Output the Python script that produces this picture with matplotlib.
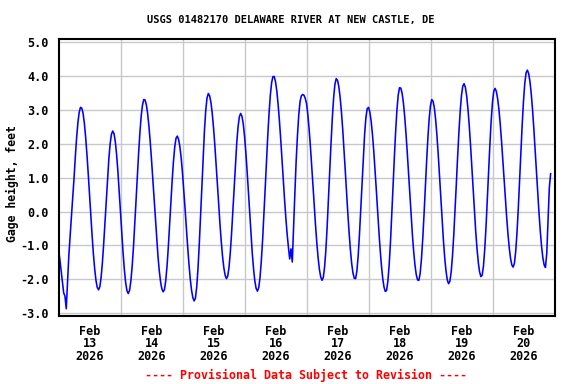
import numpy as np
import matplotlib
matplotlib.use("Agg")
import matplotlib.pyplot as plt
import matplotlib.ticker as mticker
import pandas as pd

# Gage height (feet), every 30 minutes from 2026-02-13 00:00
start_time = "2026-02-13 00:00"
step_minutes = 30
gage_height = [
    -1.09, -1.40, -1.74, -2.10, -2.40, -2.50, -2.87, -2.05, -1.30, -0.70, -0.15, 0.40,
    0.97, 1.61, 2.17, 2.62, 2.93, 3.08, 3.06, 2.91, 2.62, 2.21, 1.70, 1.13,
    0.51, -0.11, -0.70, -1.24, -1.69, -2.03, -2.24, -2.31, -2.22, -1.94, -1.50, -0.94,
    -0.30, 0.37, 1.01, 1.57, 2.01, 2.29, 2.38, 2.30, 2.06, 1.68, 1.18, 0.60,
    -0.02, -0.64, -1.22, -1.72, -2.10, -2.34, -2.42, -2.33, -2.06, -1.63, -1.07, -0.41,
    0.30, 1.03, 1.71, 2.32, 2.81, 3.14, 3.31, 3.30, 3.16, 2.90, 2.53, 2.07,
    1.54, 0.96, 0.35, -0.24, -0.81, -1.31, -1.74, -2.07, -2.28, -2.37, -2.31, -2.05,
    -1.62, -1.06, -0.41, 0.27, 0.92, 1.48, 1.91, 2.17, 2.23, 2.13, 1.91, 1.58,
    1.14, 0.63, 0.08, -0.49, -1.04, -1.55, -1.99, -2.32, -2.54, -2.64, -2.56, -2.23,
    -1.68, -0.95, -0.11, 0.78, 1.64, 2.40, 2.99, 3.36, 3.49, 3.42, 3.23, 2.91,
    2.49, 1.98, 1.41, 0.82, 0.21, -0.36, -0.88, -1.32, -1.66, -1.88, -1.98, -1.91,
    -1.65, -1.21, -0.64, 0.04, 0.74, 1.43, 2.03, 2.50, 2.80, 2.90, 2.82, 2.60,
    2.24, 1.77, 1.21, 0.59, -0.04, -0.66, -1.22, -1.69, -2.05, -2.27, -2.35, -2.25,
    -1.95, -1.47, -0.85, -0.12, 0.67, 1.47, 2.23, 2.90, 3.44, 3.81, 3.99, 3.99,
    3.84, 3.57, 3.18, 2.70, 2.16, 1.56, 0.96, 0.36, -0.18, -0.66, -1.05, -1.40,
    -1.10, -1.49, -0.45, 0.55, 1.50, 2.25, 2.85, 3.25, 3.42, 3.46, 3.44, 3.35,
    3.20, 2.88, 2.45, 1.94, 1.38, 0.78, 0.17, -0.41, -0.93, -1.37, -1.71, -1.93,
    -2.03, -1.95, -1.64, -1.13, -0.44, 0.36, 1.21, 2.03, 2.77, 3.36, 3.76, 3.93,
    3.88, 3.70, 3.39, 2.97, 2.45, 1.86, 1.22, 0.58, -0.05, -0.63, -1.13, -1.54,
    -1.82, -1.97, -1.98, -1.76, -1.31, -0.68, 0.07, 0.86, 1.63, 2.29, 2.78, 3.04,
    3.08, 2.95, 2.69, 2.31, 1.83, 1.27, 0.67, 0.05, -0.55, -1.11, -1.59, -1.97,
    -2.23, -2.36, -2.33, -2.06, -1.57, -0.91, -0.11, 0.74, 1.59, 2.36, 3.00, 3.44,
    3.66, 3.65, 3.50, 3.22, 2.82, 2.32, 1.75, 1.13, 0.50, -0.12, -0.69, -1.19,
    -1.59, -1.87, -2.02, -2.03, -1.82, -1.40, -0.80, -0.08, 0.71, 1.49, 2.19, 2.76,
    3.14, 3.31, 3.26, 3.06, 2.71, 2.24, 1.68, 1.05, 0.39, -0.25, -0.85, -1.36,
    -1.75, -2.02, -2.13, -2.06, -1.79, -1.32, -0.70, 0.03, 0.82, 1.62, 2.35, 2.97,
    3.44, 3.71, 3.78, 3.67, 3.42, 3.03, 2.54, 1.96, 1.32, 0.66, 0.02, -0.58,
    -1.09, -1.50, -1.78, -1.92, -1.88, -1.61, -1.11, -0.44, 0.35, 1.19, 2.00, 2.70,
    3.24, 3.56, 3.64, 3.55, 3.33, 3.01, 2.58, 2.08, 1.52, 0.94, 0.36, -0.18,
    -0.67, -1.08, -1.39, -1.58, -1.64, -1.52, -1.16, -0.60, 0.12, 0.93, 1.78, 2.58,
    3.27, 3.79, 4.10, 4.18, 4.08, 3.84, 3.48, 3.01, 2.45, 1.84, 1.20, 0.56,
    -0.04, -0.58, -1.03, -1.37, -1.58, -1.65, -1.24, -0.27, 0.71, 1.12,
]

day_labels = ["Feb\n13\n2026", "Feb\n14\n2026", "Feb\n15\n2026", "Feb\n16\n2026",
              "Feb\n17\n2026", "Feb\n18\n2026", "Feb\n19\n2026", "Feb\n20\n2026"]
y_ticks = [-3.0, -2.0, -1.0, 0.0, 1.0, 2.0, 3.0, 4.0, 5.0]

title = "USGS 01482170 DELAWARE RIVER AT NEW CASTLE, DE"
ylabel = "Gage height, feet"
footer = "---- Provisional Data Subject to Revision ----"

FONT = "DejaVu Sans Mono"
fig = plt.figure(figsize=(5.76, 3.84), dpi=100)
ax = fig.add_axes([58.5/576, 1-315.5/384, 496/576, 276.5/384])

start = pd.Timestamp(start_time)
times = pd.date_range(start, periods=len(gage_height), freq=f"{step_minutes}min")
ax.plot(times, gage_height, color="#0000ff", lw=1.15)

ax.set_xlim(start, start + pd.Timedelta(days=len(day_labels)))
ax.set_ylim(-3.07, 5.10)
days = [start + pd.Timedelta(days=d) for d in range(len(day_labels) + 1)]
noons = [start + pd.Timedelta(days=d, hours=12) for d in range(len(day_labels))]
ax.set_xticks(noons)
ax.set_xticklabels(day_labels, fontfamily=FONT, fontweight="bold", fontsize=8.5, linespacing=0.95)
ax.set_xticks(days[1:-1], minor=True)
ax.set_yticks(y_ticks)
ax.yaxis.set_major_formatter(mticker.FormatStrFormatter("%.1f"))
for lab in ax.get_yticklabels():
    lab.set_fontfamily(FONT)
    lab.set_fontweight("bold")
    lab.set_fontsize(8.5)
ax.tick_params(axis="both", which="both", length=0)
ax.tick_params(axis="x", pad=6.5)
ax.tick_params(axis="y", pad=7)
ax.grid(True, which="minor", axis="x", color="#c8c8c8", lw=1.0)
ax.grid(True, which="major", axis="y", color="#c8c8c8", lw=1.0)
ax.set_axisbelow(True)
for s in ax.spines.values():
    s.set_linewidth(1.5)
    s.set_color("black")
ax.set_ylabel(ylabel, fontfamily=FONT, fontweight="bold", fontsize=8.3)
ax.yaxis.label.set_va("center")
ax.yaxis.set_label_coords((12 - 58.5) / 496, (315.5 - 183.5) / 276.5)
fig.text(291/576, 1-20.5/384, title, ha="center", va="center",
         fontfamily=FONT, fontweight="bold", fontsize=7.5)
fig.text(306/576, 1-375/384, footer, ha="center", va="center",
         fontfamily=FONT, fontweight="bold", fontsize=8.4, color="#ff0000")
fig.savefig("out.png")
